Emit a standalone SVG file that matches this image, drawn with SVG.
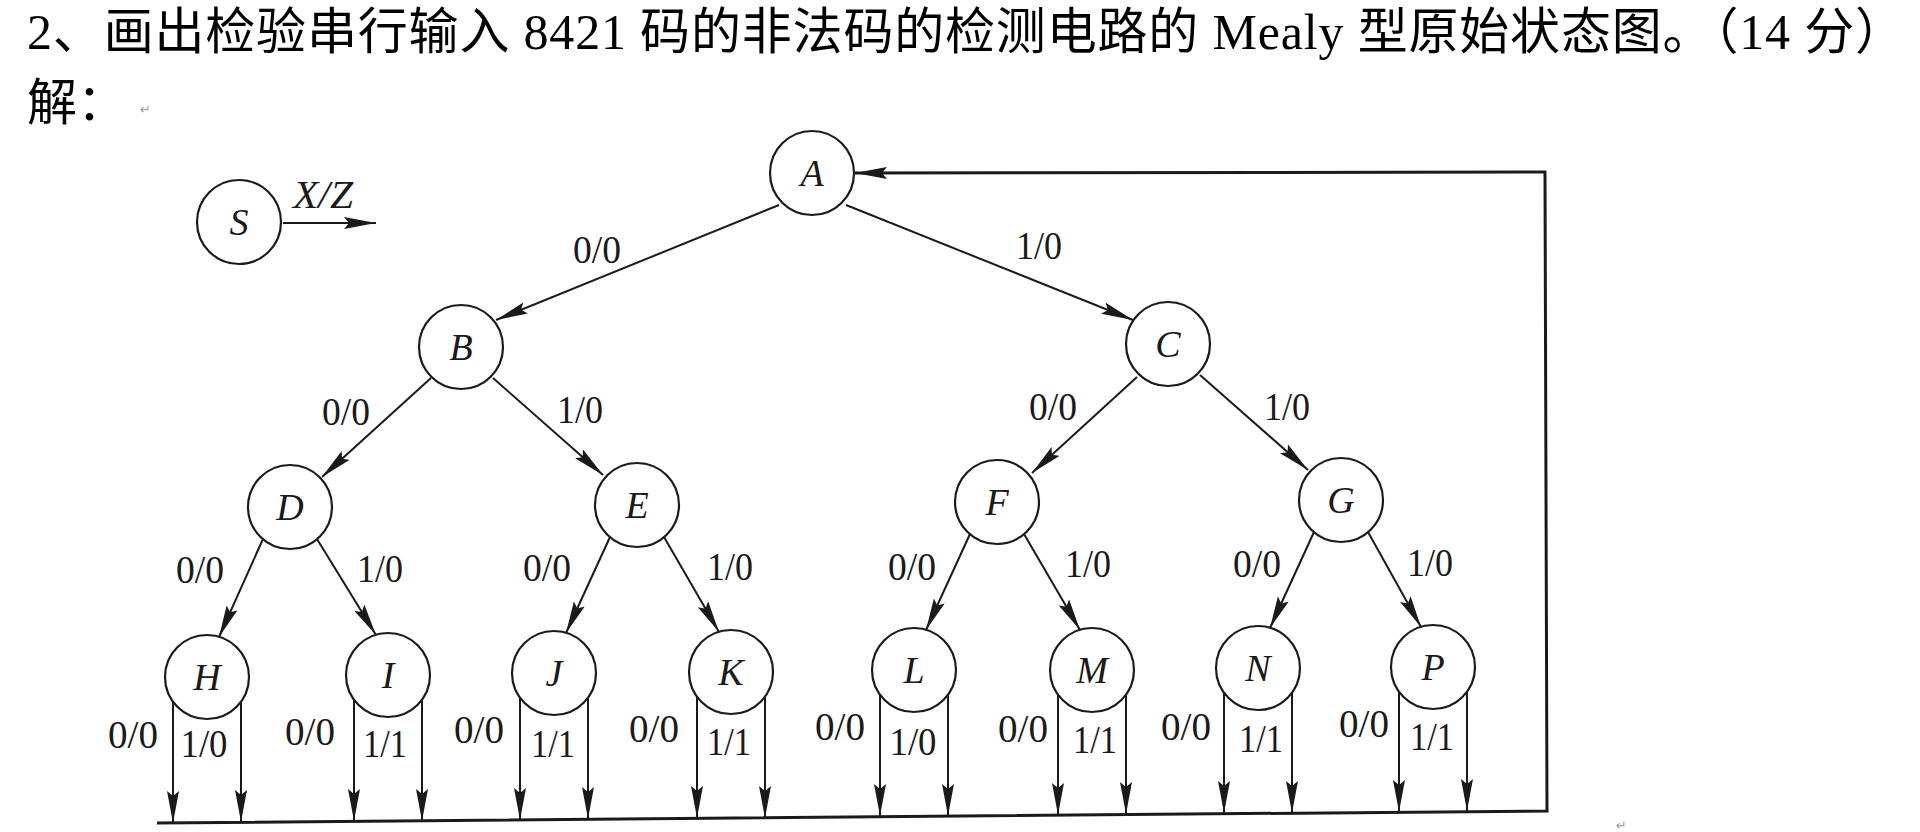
<svg xmlns="http://www.w3.org/2000/svg" width="1920" height="832" viewBox="0 0 1920 832">
<defs>
<marker id="ah" markerUnits="userSpaceOnUse" markerWidth="33" markerHeight="12" refX="32" refY="6" orient="auto">
<path d="M0,0 L32,6 L0,12 L5,6 Z" fill="#1a1a1a"/>
</marker>
<style>
.n{fill:#fff;stroke:#1a1a1a;stroke-width:2.2}
.lb{font-family:"Liberation Serif",serif;font-style:italic;font-size:38px;text-anchor:middle;fill:#1a1a1a}
.el{font-family:"Liberation Serif",serif;font-size:40px;fill:#1a1a1a}
.m{text-anchor:middle}
.r{text-anchor:end}
.e{stroke:#1a1a1a;stroke-width:2;fill:none;marker-end:url(#ah)}
.t{font-family:"Liberation Serif","Noto Sans CJK SC",serif;font-size:50px;fill:#000}
.pm{font-family:"DejaVu Sans",sans-serif;font-size:13px;fill:#999}
</style>
</defs>
<rect width="1920" height="832" fill="#fff"/>
<text class="t" x="27" y="49" textLength="1878" lengthAdjust="spacing">2、画出检验串行输入 8421 码的非法码的检测电路的 Mealy 型原始状态图。（14 分）</text>
<text class="t" x="27" y="120">解：</text>
<text class="pm" x="140" y="114">↵</text>
<text class="pm" x="1616" y="830">↵</text>

<g id="connectors">
<path class="e" d="M283,223 L376,223"/>
<path class="e" d="M779,205 L496,320"/>
<path class="e" d="M846,205 L1133,320"/>
<path class="e" d="M431,378 L322,477"/>
<path class="e" d="M493,378 L603,475"/>
<path class="e" d="M1137,377 L1032,473"/>
<path class="e" d="M1200,375 L1308,470"/>
<path class="e" d="M263,539 L219,637"/>
<path class="e" d="M317,539 L376,635"/>
<path class="e" d="M610,537 L566,633"/>
<path class="e" d="M664,537 L719,632"/>
<path class="e" d="M970,534 L926,630"/>
<path class="e" d="M1024,534 L1080,630"/>
<path class="e" d="M1314,532 L1270,628"/>
<path class="e" d="M1368,532 L1421,627"/>
<path class="e" d="M173,702 L173,823"/>
<path class="e" d="M241,702 L241,822"/>
<path class="e" d="M354,700 L354,821"/>
<path class="e" d="M422,700 L422,821"/>
<path class="e" d="M520,698 L520,820"/>
<path class="e" d="M588,698 L588,819"/>
<path class="e" d="M697,697 L697,818"/>
<path class="e" d="M765,697 L765,818"/>
<path class="e" d="M880,695 L880,816"/>
<path class="e" d="M948,695 L948,816"/>
<path class="e" d="M1058,695 L1058,815"/>
<path class="e" d="M1126,695 L1126,814"/>
<path class="e" d="M1224,693 L1224,813"/>
<path class="e" d="M1292,693 L1292,813"/>
<path class="e" d="M1399,692 L1399,812"/>
<path class="e" d="M1467,692 L1467,811"/>
<path class="e" style="stroke-width:3" d="M157,823 L1547,811 L1545,172 L855,173"/>
</g>

<g id="labels">
<text class="el" x="293" y="208" style="font-style:italic" textLength="60" lengthAdjust="spacingAndGlyphs">X/Z</text>
<text class="el" x="573" y="263" textLength="48" lengthAdjust="spacingAndGlyphs">0/0</text>
<text class="el" x="1016" y="259" textLength="46" lengthAdjust="spacingAndGlyphs">1/0</text>
<text class="el" x="322" y="425" textLength="48" lengthAdjust="spacingAndGlyphs">0/0</text>
<text class="el" x="557" y="423" textLength="46" lengthAdjust="spacingAndGlyphs">1/0</text>
<text class="el" x="1029" y="420" textLength="48" lengthAdjust="spacingAndGlyphs">0/0</text>
<text class="el" x="1264" y="420" textLength="46" lengthAdjust="spacingAndGlyphs">1/0</text>
<text class="el" x="176" y="583" textLength="48" lengthAdjust="spacingAndGlyphs">0/0</text>
<text class="el" x="357" y="582" textLength="46" lengthAdjust="spacingAndGlyphs">1/0</text>
<text class="el" x="523" y="581" textLength="48" lengthAdjust="spacingAndGlyphs">0/0</text>
<text class="el" x="707" y="580" textLength="46" lengthAdjust="spacingAndGlyphs">1/0</text>
<text class="el" x="888" y="580" textLength="48" lengthAdjust="spacingAndGlyphs">0/0</text>
<text class="el" x="1065" y="577" textLength="46" lengthAdjust="spacingAndGlyphs">1/0</text>
<text class="el" x="1233" y="577" textLength="48" lengthAdjust="spacingAndGlyphs">0/0</text>
<text class="el" x="1407" y="576" textLength="46" lengthAdjust="spacingAndGlyphs">1/0</text>
<text class="el r" x="158" y="748" textLength="50" lengthAdjust="spacingAndGlyphs">0/0</text>
<text class="el m" x="204" y="757" textLength="47" lengthAdjust="spacingAndGlyphs">1/0</text>
<text class="el r" x="335" y="745" textLength="50" lengthAdjust="spacingAndGlyphs">0/0</text>
<text class="el m" x="385" y="757" textLength="44" lengthAdjust="spacingAndGlyphs">1/1</text>
<text class="el r" x="504" y="743" textLength="50" lengthAdjust="spacingAndGlyphs">0/0</text>
<text class="el m" x="553" y="757" textLength="44" lengthAdjust="spacingAndGlyphs">1/1</text>
<text class="el r" x="679" y="742" textLength="50" lengthAdjust="spacingAndGlyphs">0/0</text>
<text class="el m" x="729" y="755" textLength="44" lengthAdjust="spacingAndGlyphs">1/1</text>
<text class="el r" x="865" y="740" textLength="50" lengthAdjust="spacingAndGlyphs">0/0</text>
<text class="el m" x="913" y="755" textLength="47" lengthAdjust="spacingAndGlyphs">1/0</text>
<text class="el r" x="1048" y="742" textLength="50" lengthAdjust="spacingAndGlyphs">0/0</text>
<text class="el m" x="1095" y="753" textLength="44" lengthAdjust="spacingAndGlyphs">1/1</text>
<text class="el r" x="1211" y="740" textLength="50" lengthAdjust="spacingAndGlyphs">0/0</text>
<text class="el m" x="1261" y="752" textLength="44" lengthAdjust="spacingAndGlyphs">1/1</text>
<text class="el r" x="1389" y="737" textLength="50" lengthAdjust="spacingAndGlyphs">0/0</text>
<text class="el m" x="1432" y="750" textLength="44" lengthAdjust="spacingAndGlyphs">1/1</text>
</g>

<g id="node-S"><circle class="n" cx="239" cy="222" r="42"/><text class="lb" x="239" y="235">S</text></g>
<g id="node-A"><circle class="n" cx="812" cy="173" r="42"/><text class="lb" x="812" y="186">A</text></g>
<g id="node-B"><circle class="n" cx="461" cy="347" r="42"/><text class="lb" x="461" y="360">B</text></g>
<g id="node-C"><circle class="n" cx="1168" cy="344" r="42"/><text class="lb" x="1168" y="357">C</text></g>
<g id="node-D"><circle class="n" cx="290" cy="507" r="42"/><text class="lb" x="290" y="520">D</text></g>
<g id="node-E"><circle class="n" cx="637" cy="505" r="42"/><text class="lb" x="637" y="518">E</text></g>
<g id="node-F"><circle class="n" cx="997" cy="502" r="42"/><text class="lb" x="997" y="515">F</text></g>
<g id="node-G"><circle class="n" cx="1341" cy="500" r="42"/><text class="lb" x="1341" y="513">G</text></g>
<g id="node-H"><circle class="n" cx="207" cy="677" r="42"/><text class="lb" x="207" y="690">H</text></g>
<g id="node-I"><circle class="n" cx="388" cy="675" r="42"/><text class="lb" x="388" y="688">I</text></g>
<g id="node-J"><circle class="n" cx="554" cy="673" r="42"/><text class="lb" x="554" y="686">J</text></g>
<g id="node-K"><circle class="n" cx="731" cy="672" r="42"/><text class="lb" x="731" y="685">K</text></g>
<g id="node-L"><circle class="n" cx="914" cy="670" r="42"/><text class="lb" x="914" y="683">L</text></g>
<g id="node-M"><circle class="n" cx="1092" cy="670" r="42"/><text class="lb" x="1092" y="683">M</text></g>
<g id="node-N"><circle class="n" cx="1258" cy="668" r="42"/><text class="lb" x="1258" y="681">N</text></g>
<g id="node-P"><circle class="n" cx="1433" cy="667" r="42"/><text class="lb" x="1433" y="680">P</text></g>
</svg>
